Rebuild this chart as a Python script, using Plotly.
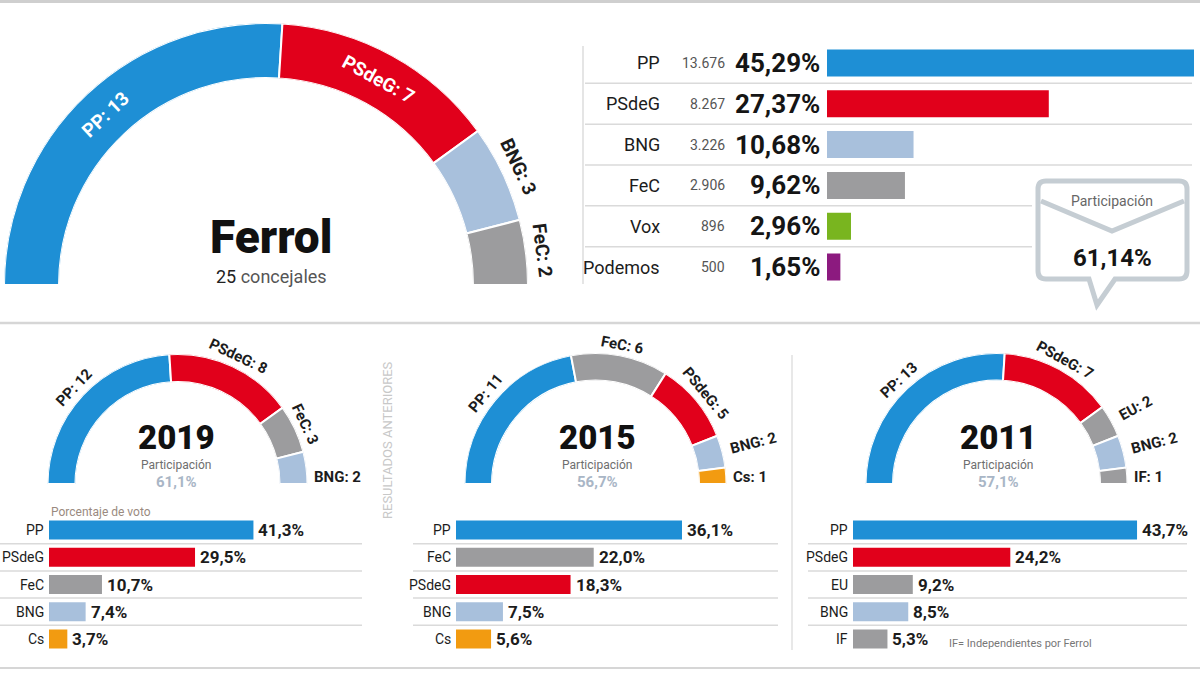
import numpy as np
import plotly.graph_objects as go

W, H = 1200, 673

# ---------------- data ----------------
party_colors = {"PP": "#1e8fd5", "PSdeG": "#e1001b", "BNG": "#a8c0dc", "FeC": "#9c9c9e",
                "Vox": "#79b51f", "Podemos": "#8c1a7f", "Cs": "#f29b11", "EU": "#9c9c9e",
                "IF": "#9c9c9e"}

# 2023 (current)
seats_2023_parties = ["PP", "PSdeG", "BNG", "FeC"]
seats_2023 = [13, 7, 3, 2]
votes_2023_parties = ["PP", "PSdeG", "BNG", "FeC", "Vox", "Podemos"]
votes_2023 = ["13.676", "8.267", "3.226", "2.906", "896", "500"]
pct_2023 = [45.29, 27.37, 10.68, 9.62, 2.96, 1.65]
turnout_2023 = 61.14

# 2019
seats_2019_parties = ["PP", "PSdeG", "FeC", "BNG"]
seats_2019 = [12, 8, 3, 2]
pct_2019_parties = ["PP", "PSdeG", "FeC", "BNG", "Cs"]
pct_2019 = [41.3, 29.5, 10.7, 7.4, 3.7]
turnout_2019 = 61.1

# 2015
seats_2015_parties = ["PP", "FeC", "PSdeG", "BNG", "Cs"]
seats_2015 = [11, 6, 5, 2, 1]
pct_2015_parties = ["PP", "FeC", "PSdeG", "BNG", "Cs"]
pct_2015 = [36.1, 22.0, 18.3, 7.5, 5.6]
turnout_2015 = 56.7

# 2011
seats_2011_parties = ["PP", "PSdeG", "EU", "BNG", "IF"]
seats_2011 = [13, 7, 2, 2, 1]
pct_2011_parties = ["PP", "PSdeG", "EU", "BNG", "IF"]
pct_2011 = [43.7, 24.2, 9.2, 8.5, 5.3]
turnout_2011 = 57.1

# ---------------- helpers ----------------
FONT = "Roboto"
DARK = "#1c1c1c"


def es(v, d):
    return f"{v:.{d}f}".replace(".", ",")


def PX(x):
    return x / W


def PY(y):
    return 1 - y / H


fig = go.Figure()
annotations = []
shapes = []
layout_extra = {}


def add_text(x, y, text, size, color=DARK, weight=400, angle=0, xanchor="center",
             yanchor="middle", family=FONT):
    annotations.append(dict(x=PX(x), y=PY(y), xref="paper", yref="paper", text=text,
                            showarrow=False, textangle=angle, xanchor=xanchor,
                            yanchor=yanchor,
                            font=dict(family=family, size=size, color=color, weight=weight)))


def hline(x0, x1, y, color="#d9d9d9", width=1.5):
    shapes.append(dict(type="line", xref="paper", yref="paper", x0=PX(x0), x1=PX(x1),
                       y0=PY(y), y1=PY(y), line=dict(color=color, width=width)))


def vline(x, y0, y1, color="#d9d9d9", width=1.5):
    shapes.append(dict(type="line", xref="paper", yref="paper", x0=PX(x), x1=PX(x),
                       y0=PY(y0), y1=PY(y1), line=dict(color=color, width=width)))


def hemicycle(idx, parties, seats, cx, by, R, hole, modes, size, off):
    name = "polar" if idx == 1 else f"polar{idx}"
    total = sum(seats)
    widths = np.array(seats, dtype=float) / total * 180.0
    ends = np.cumsum(widths)
    starts = ends - widths
    mids = (starts + ends) / 2
    fig.add_trace(go.Barpolar(
        r=[1] * len(seats), theta=mids, width=widths,
        marker=dict(color=[party_colors[p] for p in parties],
                    line=dict(color="white", width=2)),
        subplot=name, hoverinfo="skip", showlegend=False))
    layout_extra[name] = dict(
        domain=dict(x=[PX(cx - R), PX(cx + R)], y=[PY(by), PY(by - R)]),
        sector=[0, 180], hole=hole, bgcolor="rgba(0,0,0,0)",
        radialaxis=dict(visible=False, range=[0, 1]),
        angularaxis=dict(visible=False, rotation=180, direction="clockwise",
                         thetaunit="degrees"))
    for p, s, m, mode in zip(parties, seats, mids, modes):
        txt = f"{p}: {s}"
        phi = np.radians(180 - m)
        if mode == "in":
            r = R * (1 + hole) / 2
            ang = 90 - np.degrees(phi)
            add_text(cx + r * np.cos(phi), by - r * np.sin(phi), txt, size, "white", 700, ang)
        elif mode == "tan":
            r = R + off
            ang = 90 - np.degrees(phi)
            add_text(cx + r * np.cos(phi), by - r * np.sin(phi), txt, size, DARK, 700, ang)
        elif mode == "rad":
            r = R + 6 + len(txt) * size * 0.29
            ang = -np.degrees(phi)
            add_text(cx + r * np.cos(phi), by - r * np.sin(phi), txt, size, DARK, 700, ang)
        else:  # horizontal beside the base
            add_text(cx + R + 4, by - 7, txt, size, DARK, 700, 0, xanchor="left")


def bar_panel(idx, parties, pct, x0, pxper, ytop, ybot, line_x0, line_x1, name_size,
              val_size, width):
    xa = "x" if idx == 1 else f"x{idx}"
    ya = "y" if idx == 1 else f"y{idx}"
    n = len(parties)
    fig.add_trace(go.Bar(x=pct, y=parties, orientation="h", xaxis=xa, yaxis=ya,
                         marker=dict(color=[party_colors[p] for p in parties], line=dict(width=0)),
                         width=width, hoverinfo="skip", showlegend=False))
    span = 50.0
    layout_extra["xaxis" if idx == 1 else f"xaxis{idx}"] = dict(
        domain=[PX(x0), PX(x0 + pxper * span)], range=[0, span], visible=False,
        anchor=ya, fixedrange=True)
    layout_extra["yaxis" if idx == 1 else f"yaxis{idx}"] = dict(
        domain=[PY(ybot), PY(ytop)], range=[n - 0.5, -0.5], type="category",
        categoryorder="array", categoryarray=parties, visible=False, anchor=xa,
        fixedrange=True)
    for i in range(n - 1):
        shapes.append(dict(type="line", xref="paper", yref=ya, x0=PX(line_x0), x1=PX(line_x1),
                           y0=i + 0.5, y1=i + 0.5, line=dict(color="#dadada", width=1.5)))
    for p, v in zip(parties, pct):
        annotations.append(dict(x=0, y=p, xref=xa, yref=ya, text=p, showarrow=False,
                                xanchor="right", xshift=-3,
                                font=dict(family=FONT, size=name_size, color=DARK)))
        annotations.append(dict(x=v, y=p, xref=xa, yref=ya, text=es(v, 1) + "%",
                                showarrow=False, xanchor="left", xshift=3,
                                font=dict(family=FONT, size=val_size, color=DARK, weight=700)))


# ---------------- frame lines ----------------
hline(0, 1200, 1.5, "#cfcfcf", 3)
hline(0, 1200, 323, "#d6d6d6", 2.5)
hline(0, 1200, 668, "#d6d6d6", 2)

# ---------------- top hemicycle ----------------
hemicycle(1, seats_2023_parties, seats_2023, 266, 285, 262, 0.79,
          ["in", "in", "tan", "tan"], 19, 17)
add_text(271, 237, "Ferrol", 46, "#111111", 900)
add_text(271, 276, "<span style='color:#222'>25</span> concejales", 18, "#555555", 400)

# ---------------- top table ----------------
fig.add_trace(go.Bar(x=pct_2023, y=votes_2023_parties, orientation="h", xaxis="x", yaxis="y",
                     marker=dict(color=[party_colors[p] for p in votes_2023_parties],
                                 line=dict(width=0)),
                     width=0.66, hoverinfo="skip", showlegend=False))
layout_extra["xaxis"] = dict(domain=[PX(827), PX(1194)], range=[0, max(pct_2023)],
                             visible=False, anchor="y", fixedrange=True)
layout_extra["yaxis"] = dict(domain=[PY(287.5), PY(42.5)], range=[5.5, -0.5], type="category",
                             categoryorder="array", categoryarray=votes_2023_parties,
                             visible=False, anchor="x", fixedrange=True)
for i in range(len(votes_2023_parties) - 1):
    x1 = 1192 if i < 3 else 1032
    shapes.append(dict(type="line", xref="paper", yref="y", x0=PX(585), x1=PX(x1),
                       y0=i + 0.5, y1=i + 0.5, line=dict(color="#dadada", width=1.5)))
vline(583, 46, 284, "#dddddd", 1.5)
for p, v, pc in zip(votes_2023_parties, votes_2023, pct_2023):
    annotations.append(dict(x=0, y=p, xref="x", yref="y", text=p, showarrow=False,
                            xanchor="right", xshift=-165,
                            font=dict(family=FONT, size=18, color=DARK)))
    annotations.append(dict(x=0, y=p, xref="x", yref="y", text=v, showarrow=False,
                            xanchor="right", xshift=-100,
                            font=dict(family=FONT, size=14, color="#555555")))
    annotations.append(dict(x=0, y=p, xref="x", yref="y", text=es(pc, 2) + "%",
                            showarrow=False, xanchor="right", xshift=-5,
                            font=dict(family=FONT, size=26, color="#151515", weight=700)))

# participation envelope
def pth(points):
    out = []
    for cmd, pts in points:
        coords = " ".join(f"{PX(x):.5f},{PY(y):.5f}" for x, y in pts)
        out.append(f"{cmd} {coords}" if coords else cmd)
    return " ".join(out)


env = pth([("M", [(1046, 181)]), ("L", [(1179, 181)]), ("Q", [(1187, 181), (1187, 189)]),
           ("L", [(1187, 271)]), ("Q", [(1187, 279), (1179, 279)]), ("L", [(1115, 279)]),
           ("L", [(1097, 305)]), ("L", [(1089, 279)]), ("L", [(1046, 279)]),
           ("Q", [(1038, 279), (1038, 271)]), ("L", [(1038, 189)]),
           ("Q", [(1038, 181), (1046, 181)]), ("Z", [])])
shapes.append(dict(type="path", xref="paper", yref="paper", path=env, fillcolor="white",
                   line=dict(color="#c5cdd3", width=5)))
flap = pth([("M", [(1041, 201)]), ("L", [(1112, 231)]), ("L", [(1184, 201)])])
shapes.append(dict(type="path", xref="paper", yref="paper", path=flap,
                   line=dict(color="#c5cdd3", width=5)))
add_text(1112, 201, "Participación", 14, "#666666", 400)
add_text(1112, 258, es(turnout_2023, 2) + "%", 24, "#151515", 700)

# ---------------- previous results ----------------
hemicycle(2, seats_2019_parties, seats_2019, 177.5, 484, 130, 0.785,
          ["tan", "tan", "tan", "hor"], 15, 11)
hemicycle(3, seats_2015_parties, seats_2015, 595.5, 484, 131, 0.79,
          ["tan", "tan", "tan", "rad", "hor"], 15, 11)
hemicycle(4, seats_2011_parties, seats_2011, 996.5, 484, 131, 0.79,
          ["tan", "tan", "rad", "rad", "hor"], 15, 11)

for cx, yr, t in [(176, "2019", turnout_2019), (597, "2015", turnout_2015),
                  (998, "2011", turnout_2011)]:
    add_text(cx, 437, yr, 33, "#111111", 900)
    add_text(cx, 465, "Participación", 12, "#6e6e6e", 400)
    add_text(cx, 482, es(t, 1) + "%", 15, "#a9b6c6", 700)

add_text(49, 512, "Porcentaje de voto", 12, "#9a8a80", 400, xanchor="left")

bar_panel(2, pct_2019_parties, pct_2019, 49, 4.95, 516.4, 652.6, 0, 362, 14, 17, 0.7)
bar_panel(3, pct_2015_parties, pct_2015, 456, 6.26, 516.4, 652.6, 413, 778, 14, 17, 0.7)
bar_panel(4, pct_2011_parties, pct_2011, 853, 6.5, 516.4, 652.6, 808, 1187, 14, 17, 0.7)

add_text(387, 440, "RESULTADOS ANTERIORES", 13, "#c8c8c8", 400, angle=-90)
vline(792, 355, 650, "#e0e0e0", 1.5)
add_text(947, 643, "IF= Independientes por Ferrol", 11, "#777777", 400, xanchor="left")

fig.update_layout(width=W, height=H, margin=dict(l=0, r=0, t=0, b=0),
                  paper_bgcolor="white", plot_bgcolor="rgba(0,0,0,0)",
                  showlegend=False, annotations=annotations, shapes=shapes,
                  barmode="overlay", font=dict(family=FONT), **layout_extra)

fig.write_html("out.html", config={"displayModeBar": False},
               post_script="document.body.style.margin='0px';document.body.style.overflow='hidden';")
